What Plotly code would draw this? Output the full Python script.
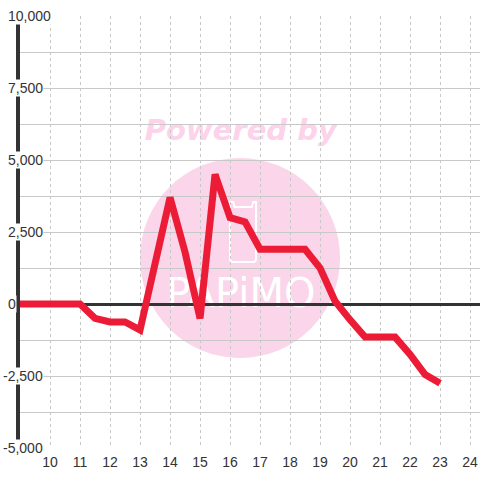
import plotly.graph_objects as go

hours = [9, 9.5, 10, 10.5, 11, 11.5, 12, 12.5, 13, 13.5, 14, 14.5, 15, 15.5,
         16, 16.5, 17, 17.5, 18, 18.5, 19, 19.5, 20, 20.5, 21, 21.5, 22, 22.5, 23]
values = [0, 0, 0, 0, 0, -500, -625, -625, -900, 1400, 3700, 1800, -500, 4500,
          3000, 2850, 1900, 1900, 1900, 1900, 1250, 100, -550, -1150, -1150, -1150,
          -1750, -2450, -2750]
x_ticks = list(range(10, 25))
y_ticks = [-5000, -2500, 0, 2500, 5000, 7500, 10000]
y_labels = [f"{v:,}" for v in y_ticks]

fig = go.Figure()
fig.add_trace(go.Scatter(x=hours, y=values, mode="lines",
                         line=dict(color="#ED1C36", width=7), hoverinfo="skip"))

# watermark (below grid)
fig.add_shape(type="circle", xref="paper", yref="paper", x0=0.2609, x1=0.6957,
              y0=0.2083, y1=0.6713, fillcolor="#FBD5EA", line_width=0, layer="below")
fig.add_shape(type="rect", xref="paper", yref="paper", x0=0.26, x1=0.70,
              y0=0.70, y1=0.78, line_width=0, fillcolor="rgba(0,0,0,0)", layer="below",
              label=dict(text="<b><i>Powered by</i></b>",
                         font=dict(family="DejaVu Sans", size=29, color="#FCD3EA")))
fig.add_shape(type="path", xref="paper", yref="paper",
              path="M 0.4565,0.5694 L 0.4565,0.4389 Q 0.4565,0.4306 0.4630,0.4306 L 0.5065,0.4306 Q 0.513,0.4306 0.513,0.4389 L 0.513,0.5694 L 0.507,0.5694 L 0.504,0.5579 L 0.4665,0.5579 L 0.4635,0.5694 Z",
              line=dict(color="white", width=2), fillcolor="rgba(0,0,0,0)", layer="below")
fig.add_shape(type="rect", xref="paper", yref="paper", x0=0.33, x1=0.63,
              y0=0.32, y1=0.41, line_width=0, fillcolor="rgba(0,0,0,0)", layer="below",
              label=dict(text="PAPiMO",
                         font=dict(family="DejaVu Sans", size=40, color="white")))

for v, t in zip(y_ticks, y_labels):
    fig.add_annotation(x=0, xref="paper", y=v, yref="y", text=t, showarrow=False,
                       xanchor="left", yanchor="middle",
                       xshift=-13 - (5 if v < 0 else 0),
                       bgcolor="white", borderpad=0,
                       font=dict(family="Liberation Sans, Arial", size=14, color="#333333"))

fig.update_layout(
    width=480, height=480,
    margin=dict(l=20, r=0, t=16, b=32),
    paper_bgcolor="white", plot_bgcolor="white",
    showlegend=False,
    font=dict(family="Liberation Sans, Arial", size=14, color="#333333"),
    xaxis=dict(range=[9, 24.33], tickmode="array", tickvals=x_ticks,
               ticktext=[str(v) for v in x_ticks],
               showgrid=True, gridcolor="#C8C8C8", griddash="dot", gridwidth=1,
               zeroline=False, showline=False, ticks="", ticklabelstandoff=4,
               automargin=False,
               tickfont=dict(size=14, color="#333333")),
    yaxis=dict(range=[-5000, 10000], dtick=1250, tick0=0, showticklabels=False,
               showgrid=True, gridcolor="#C8C8C8", gridwidth=1,
               zeroline=True, zerolinecolor="#333333", zerolinewidth=3,
               showline=True, linecolor="#333333", linewidth=4, ticks="",
               automargin=False),
)

fig.write_html("out.html", post_script="document.body.style.margin='0';",
               config={"displayModeBar": False})
